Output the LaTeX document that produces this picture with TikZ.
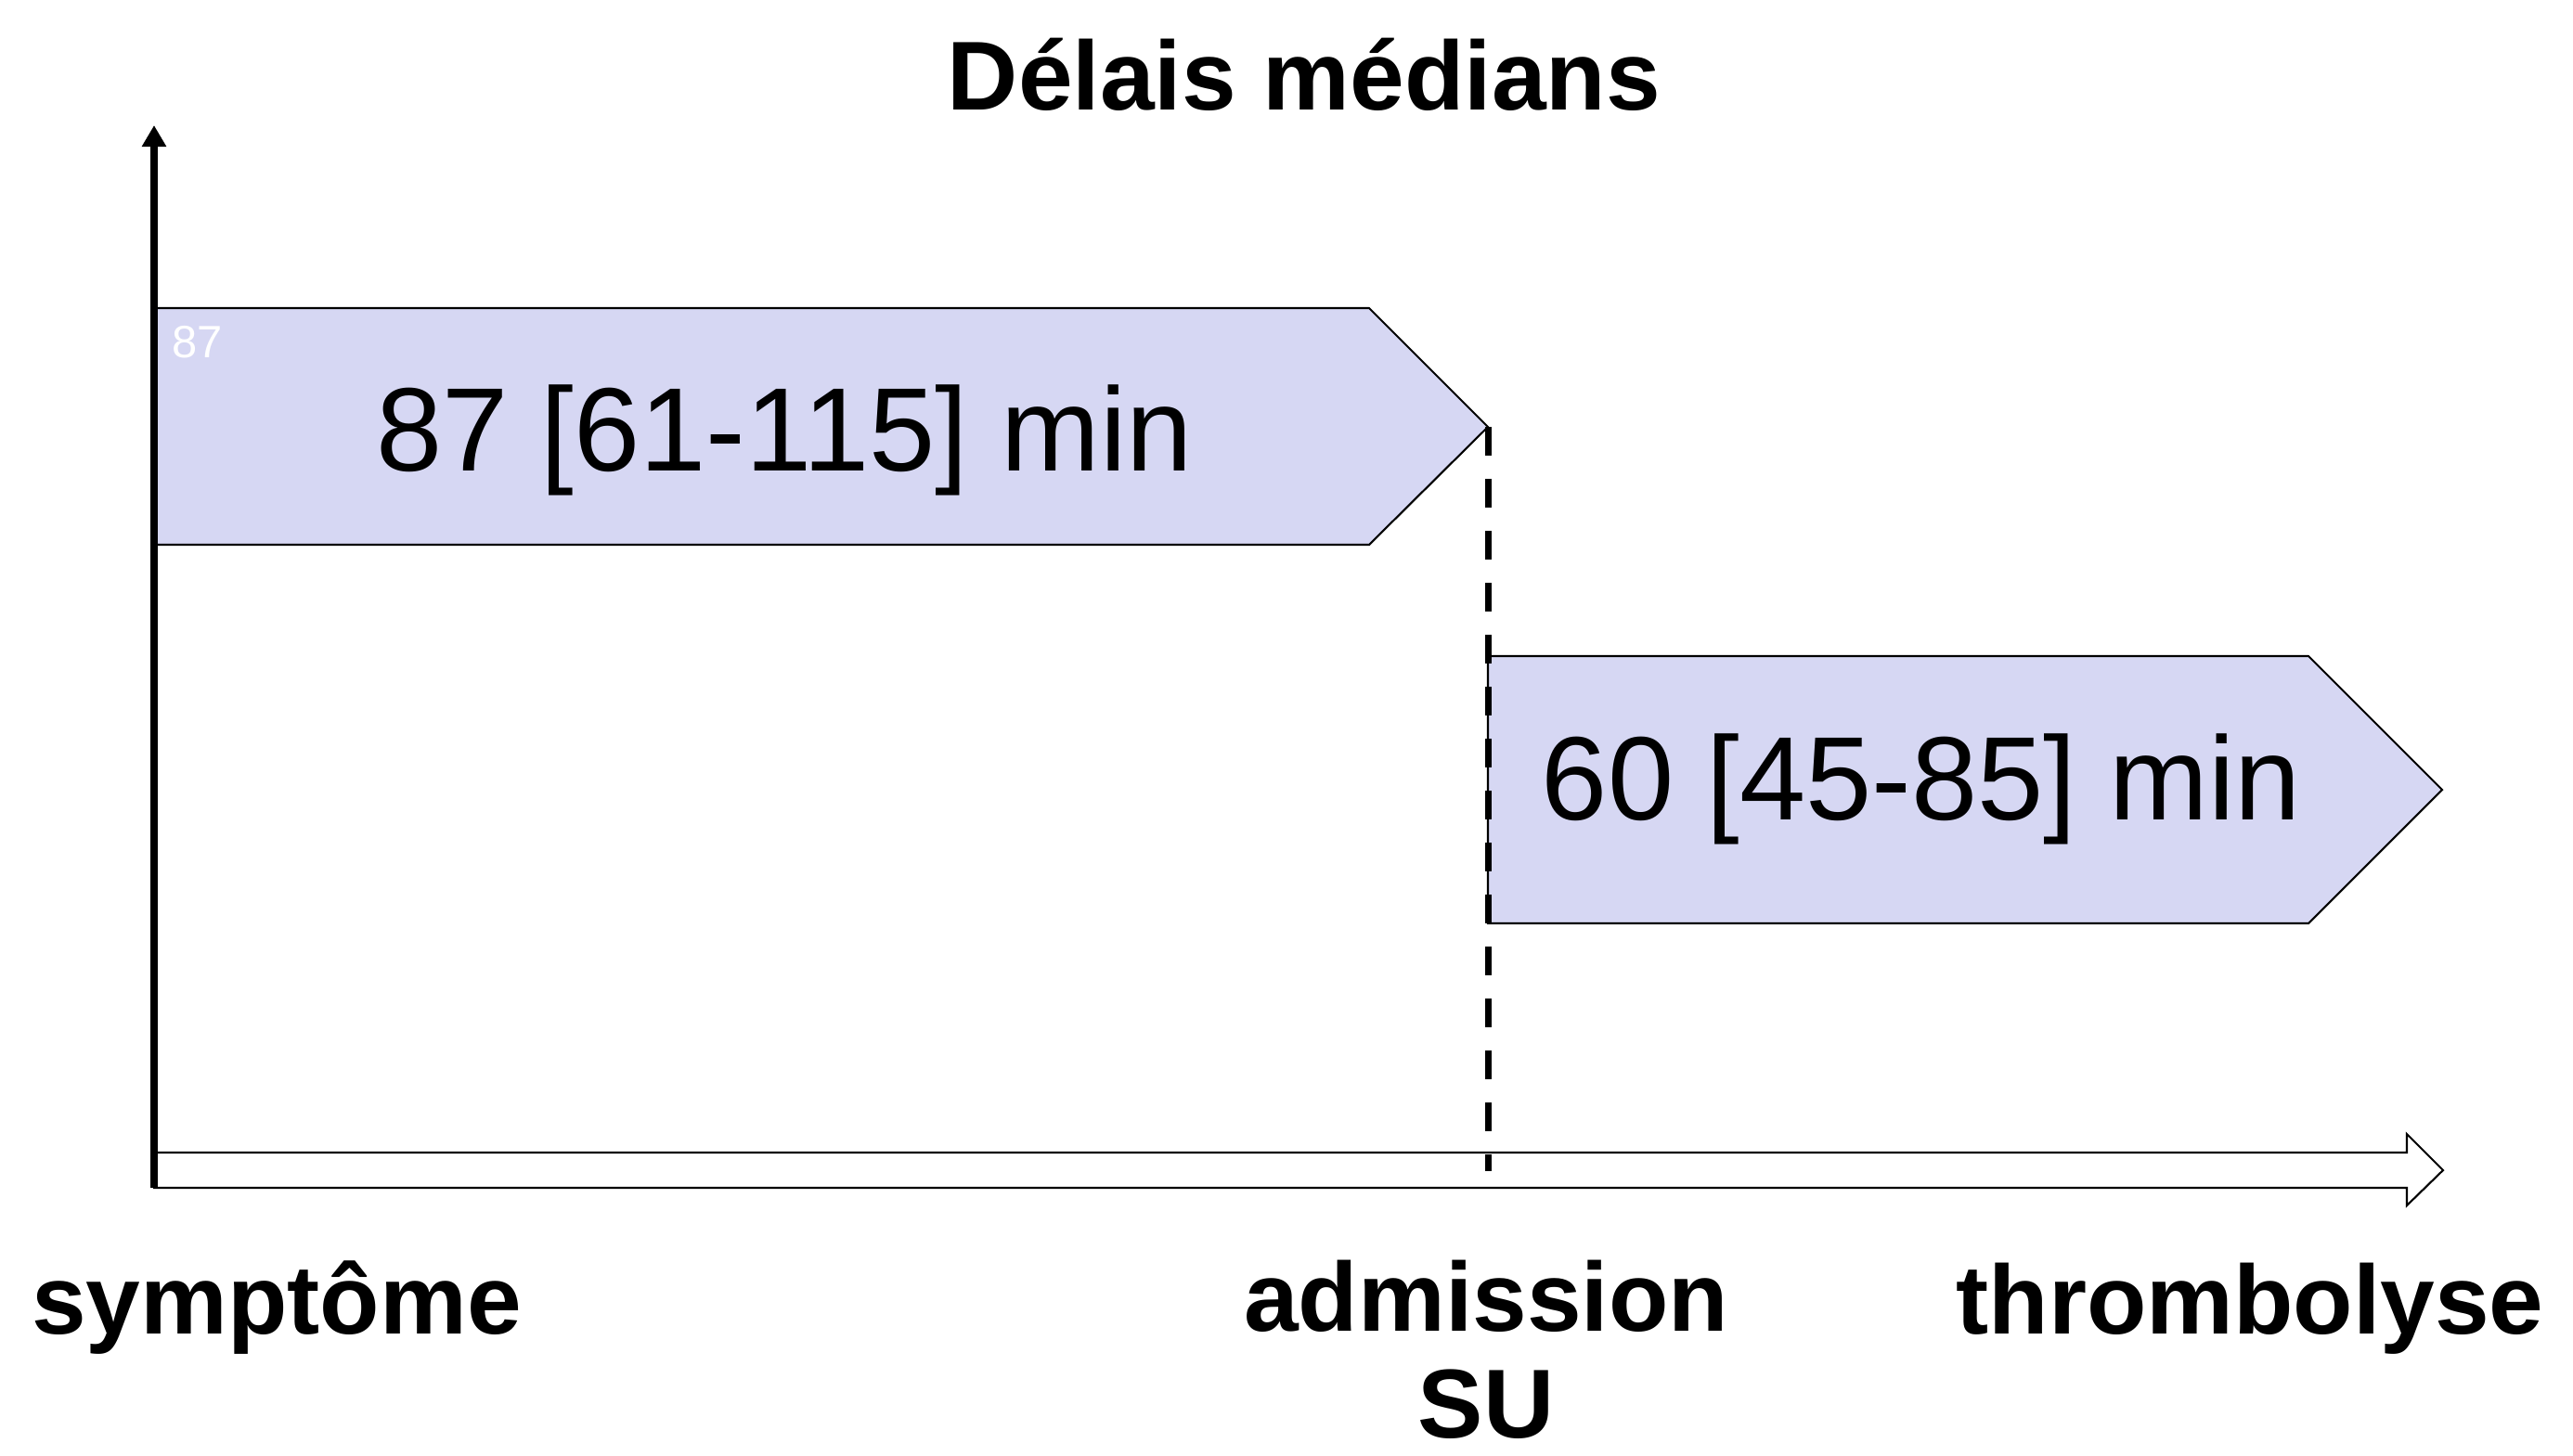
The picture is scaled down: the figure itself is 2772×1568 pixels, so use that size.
\documentclass[tikz,border=0pt]{standalone}
\usepackage{fontspec}
\setmainfont{Liberation Sans}
\usepackage{tikz}
\usetikzlibrary{arrows.meta, positioning}
\definecolor{spanfill}{RGB}{214,215,243}
\tikzset{%
	delay/.style={draw=black, line width=0.6pt, fill=spanfill},
	timeline/.style={draw=black, line width=0.6pt, fill=white},
	yaxis/.style={line width=2.1pt, -{Triangle[length=0.23cm, width=0.25cm]}},
	admline/.style={line width=2pt, dash pattern=on 0.31cm off 0.25cm},
	stage/.style={anchor=base, align=center, inner sep=0pt, font=\fontsize{30}{32.7}\selectfont\bfseries},
	span/.style={anchor=base, font=\fontsize{36.4}{40}\selectfont},
	tag/.style={anchor=base west, text=white, inner sep=0pt, font=\fontsize{13.9}{16}\selectfont}
}

\begin{document}
\begin{tikzpicture}[x=0.01cm, y=-0.01cm]
	\useasboundingbox (0,0) rectangle (2772,1568);

	\coordinate (origin) at (166,1280);
	\coordinate (ytop) at (166,135);
	\coordinate (admit) at (1603,460);
	\coordinate (admitaxis) at (1603,1262);

	\draw[delay] (166,332) -- (1475,332) -- (admit) -- (1475,587) -- (166,587) -- cycle;
	\draw[delay] (1603,707) -- (2487,707) -- (2631,851) -- (2487,995) -- (1603,995) -- cycle;
	\draw[timeline] (166,1242) -- (2593,1242) -- (2593,1222) -- (2632,1261)
		-- (2593,1299) -- (2593,1280) -- (origin) -- cycle;
	\draw[yaxis] (origin) -- (ytop);
	\draw[admline] (admit) -- (admitaxis);

	\node[tag] (tag87) at (185,385) {87};
	\node[span] (d1) at (845,507) {87 [61-115] min};
	\node[span] (d2) at (2070,883) {60 [45-85] min};

	\node[stage] (title) at (1405,118) {Délais médians};
	\node[stage] (sym) at (298,1437) {symptôme};
	\node[stage] (adm) at (1601,1549) {admission\\SU};
	\node[stage] (thr) at (2424,1437) {thrombolyse};
\end{tikzpicture}
\end{document}
